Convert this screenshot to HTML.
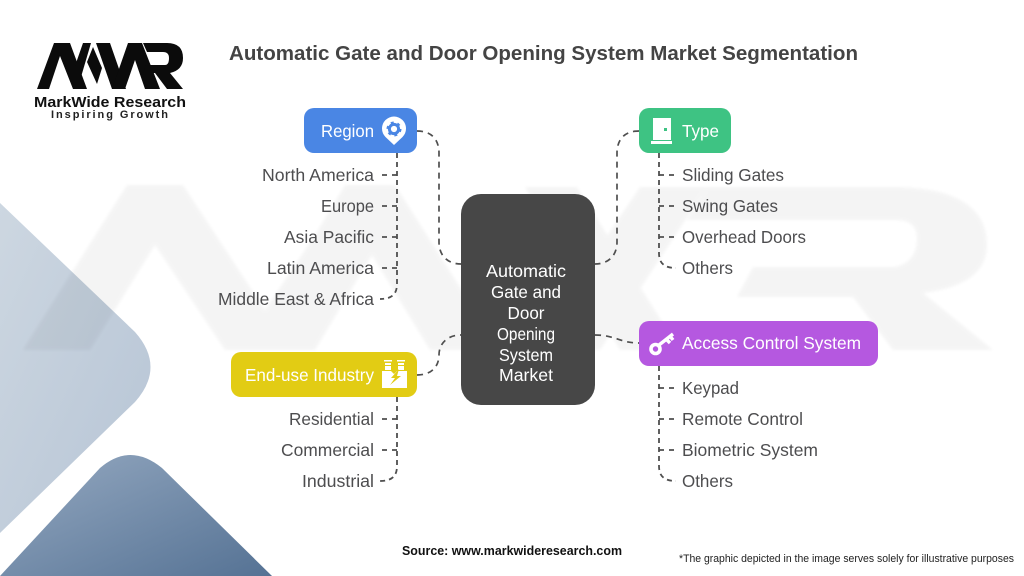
<!DOCTYPE html>
<html><head><meta charset="utf-8"><style>
html,body{margin:0;padding:0;background:#fff}
svg{display:block}
text{font-family:"Liberation Sans",sans-serif}
.l{font-size:17.5px;fill:#4d4d4f;text-anchor:end}
.r{font-size:17.5px;fill:#4d4d4f}
.n{font-size:17.5px;fill:#fff}
.c{font-size:17.5px;fill:#fff;text-anchor:middle}
.d{fill:none;stroke:#4f4f4f;stroke-width:1.7;stroke-dasharray:6 5}
.t{fill:none;stroke:#4f4f4f;stroke-width:1.8;stroke-dasharray:5 4}
.b{fill:none;stroke:#4f4f4f;stroke-width:1.7;stroke-dasharray:5 5 5 20}
</style></head><body>
<svg width="1024" height="576" viewBox="0 0 1024 576" xmlns="http://www.w3.org/2000/svg">
<defs>
<linearGradient id="g1" x1="0" y1="0" x2="1" y2="1"><stop offset="0" stop-color="#cdd7e1"/><stop offset="1" stop-color="#b6c4d5"/></linearGradient>
<linearGradient id="g2" x1="0" y1="0" x2="1" y2="1"><stop offset="0" stop-color="#95a9c1"/><stop offset="1" stop-color="#557294"/></linearGradient>
<filter id="bl" x="-5%" y="-5%" width="110%" height="110%"><feGaussianBlur stdDeviation="1.5"/></filter>
</defs>
<rect width="1024" height="576" fill="#fff"/>
<path d="M0,203 L135,332 Q166,367 135,402 L0,533 Z" fill="url(#g1)"/>
<path d="M0,576 L100,468 Q130,442 162,468 L272,576 Z" fill="url(#g2)"/>
<g fill="#000" opacity="0.04" filter="url(#bl)">
<path d="M23,350 L127,185 H183 L265,310 L315,235 L345,185 H395 L500,350 H430 L372,255 L315,350 H225 L155,245 L90,350 Z"/>
<path d="M525,187 H577 L680,350 H620 Z"/>
<path d="M530,350 L640,187 H707 L600,350 Z"/>
<path d="M707,187 H900 Q987,190 987,245 Q987,285 923,293 L993,350 H893 L853,297 H737 L753,267 H895 Q917,262 917,238 Q917,220 895,220 H687 Z"/>
</g>
<g fill="#0b0b0b">
<path d="M37,89 L54,43 H70 L87,89 H73 L60,56 L49,89 Z"/>
<path d="M75,66 L83,43 H91 L81,77 Z"/>
<path d="M93,47 L87,62 L97,84 L102,68 Z"/>
<path d="M96,43 H110 L126,89 H112 Z"/>
<path d="M112,89 L128,43 H142 L160,89 H145 L135,60 L125,89 Z"/>
<path d="M143,43 H167 Q183,43 183,58 Q183,70 170,73 L183,89 H167 L155,73 H143 L146,65 H165 Q169,65 169,58 Q169,52 163,52 H147 Z"/>
</g>
<text x="34" y="107" font-size="14.5" font-weight="700" fill="#111" textLength="152" lengthAdjust="spacingAndGlyphs">MarkWide Research</text>
<text x="51" y="118" font-size="11" font-weight="700" fill="#222" textLength="117">Inspiring Growth</text>
<text x="229" y="60" font-size="20.5" font-weight="700" fill="#444" textLength="629" lengthAdjust="spacingAndGlyphs">Automatic Gate and Door Opening System Market Segmentation</text>

<path class="d" d="M417,131 C432,131 439,140 439,153 V242 C439,256 448,264 461,264"/>
<path class="d" d="M639,131 C624,131 617,140 617,153 V242 C617,256 608,264 595,264"/>
<path class="d" d="M417,375 C432,375 439,366 439,355 C439,343 448,335 461,335"/>
<path class="d" d="M595,335 C615,335 620,343 639,343"/>

<path class="t" d="M397,153 V284 C397,294 392,299 380,299"/>
<path class="b" d="M382,175 H397 M382,206 H397 M382,237 H397 M382,268 H397"/>
<path class="t" d="M397,397 V466 C397,476 392,481 380,481"/>
<path class="b" d="M382,419 H397 M382,450 H397"/>
<path class="t" d="M659,153 V253 C659,263 664,268 676,268"/>
<path class="b" d="M659,175 H674 M659,206 H674 M659,237 H674"/>
<path class="t" d="M659,366 V466 C659,476 664,481 676,481"/>
<path class="b" d="M659,388 H674 M659,419 H674 M659,450 H674"/>

<rect x="304" y="108" width="113" height="45" rx="10" fill="#4a86e4"/>
<rect x="639" y="108" width="92" height="45" rx="10" fill="#3ec383"/>
<rect x="639" y="321" width="239" height="45" rx="10" fill="#b558e0"/>
<rect x="231" y="352" width="186" height="45" rx="10" fill="#e2cc14"/>
<rect x="461" y="194" width="134" height="211" rx="20" fill="#474747"/>

<text class="n" x="321" y="137" textLength="53" lengthAdjust="spacingAndGlyphs">Region</text>
<path d="M394,145 L385.500,137 A12,12 0 1 1 402.500,137 Z" fill="#fff"/>
<circle cx="394" cy="129" r="4.6" fill="none" stroke="#4a86e4" stroke-width="3"/>
<circle cx="394" cy="129" r="6.600" fill="none" stroke="#4a86e4" stroke-width="1.8" stroke-dasharray="3 3.900"/>

<text class="n" x="682" y="137" textLength="37" lengthAdjust="spacingAndGlyphs">Type</text>
<path d="M653,118 H671 V140 H653 Z" fill="#fff"/>
<rect x="651" y="141" width="21" height="3" fill="#fff"/>
<rect x="664" y="128" width="3" height="3" fill="#3ec383"/>

<text class="n" x="682" y="349" textLength="179" lengthAdjust="spacingAndGlyphs">Access Control System</text>
<circle cx="655.500" cy="349" r="4.500" fill="none" stroke="#fff" stroke-width="3.600"/>
<path d="M659,345 L673,334 M666,339 L670,343 M670,336 L673,340" fill="none" stroke="#fff" stroke-width="3.400"/>

<text class="n" x="245" y="381" textLength="129" lengthAdjust="spacingAndGlyphs">End-use Industry</text>
<path d="M382,371 L391,371 L394,374 L397,371 H407 V388 H382 Z" fill="#fff"/>
<path d="M385,363 H391 V370 H385 Z M398,363 H404 V370 H398 Z M384,360 H392 V361.500 H384 Z M397,360 H405 V361.500 H397 Z" fill="#fff"/>
<path d="M385,365.500 H391 M398,365.500 H404" stroke="#e2cc14" stroke-width="1"/>
<path d="M399,369 L391,378 L395,378 L390,385 L401,376 L397,376 Z" fill="#e2cc14"/>

<text class="c" x="526" y="277" textLength="80" lengthAdjust="spacingAndGlyphs">Automatic</text>
<text class="c" x="526" y="298" textLength="70" lengthAdjust="spacingAndGlyphs">Gate and</text>
<text class="c" x="526" y="319" textLength="37" lengthAdjust="spacingAndGlyphs">Door</text>
<text class="c" x="526" y="340" textLength="58" lengthAdjust="spacingAndGlyphs">Opening</text>
<text class="c" x="526" y="361" textLength="54" lengthAdjust="spacingAndGlyphs">System</text>
<text class="c" x="526" y="381" textLength="54" lengthAdjust="spacingAndGlyphs">Market</text>

<text class="l" x="374" y="181" textLength="112" lengthAdjust="spacingAndGlyphs">North America</text>
<text class="l" x="374" y="212" textLength="53" lengthAdjust="spacingAndGlyphs">Europe</text>
<text class="l" x="374" y="243" textLength="90" lengthAdjust="spacingAndGlyphs">Asia Pacific</text>
<text class="l" x="374" y="274" textLength="107" lengthAdjust="spacingAndGlyphs">Latin America</text>
<text class="l" x="374" y="305" textLength="156" lengthAdjust="spacingAndGlyphs">Middle East &amp; Africa</text>
<text class="l" x="374" y="425" textLength="85" lengthAdjust="spacingAndGlyphs">Residential</text>
<text class="l" x="374" y="456" textLength="93" lengthAdjust="spacingAndGlyphs">Commercial</text>
<text class="l" x="374" y="487" textLength="72" lengthAdjust="spacingAndGlyphs">Industrial</text>

<text class="r" x="682" y="181" textLength="102" lengthAdjust="spacingAndGlyphs">Sliding Gates</text>
<text class="r" x="682" y="212" textLength="96" lengthAdjust="spacingAndGlyphs">Swing Gates</text>
<text class="r" x="682" y="243" textLength="124" lengthAdjust="spacingAndGlyphs">Overhead Doors</text>
<text class="r" x="682" y="274" textLength="51" lengthAdjust="spacingAndGlyphs">Others</text>
<text class="r" x="682" y="394" textLength="57" lengthAdjust="spacingAndGlyphs">Keypad</text>
<text class="r" x="682" y="425" textLength="121" lengthAdjust="spacingAndGlyphs">Remote Control</text>
<text class="r" x="682" y="456" textLength="136" lengthAdjust="spacingAndGlyphs">Biometric System</text>
<text class="r" x="682" y="487" textLength="51" lengthAdjust="spacingAndGlyphs">Others</text>

<text x="402" y="555" font-size="12.500" font-weight="700" fill="#111" textLength="220" lengthAdjust="spacingAndGlyphs">Source: www.markwideresearch.com</text>
<text x="679" y="562" font-size="11" fill="#222" textLength="335" lengthAdjust="spacingAndGlyphs">*The graphic depicted in the image serves solely for illustrative purposes</text>
</svg>
</body></html>
